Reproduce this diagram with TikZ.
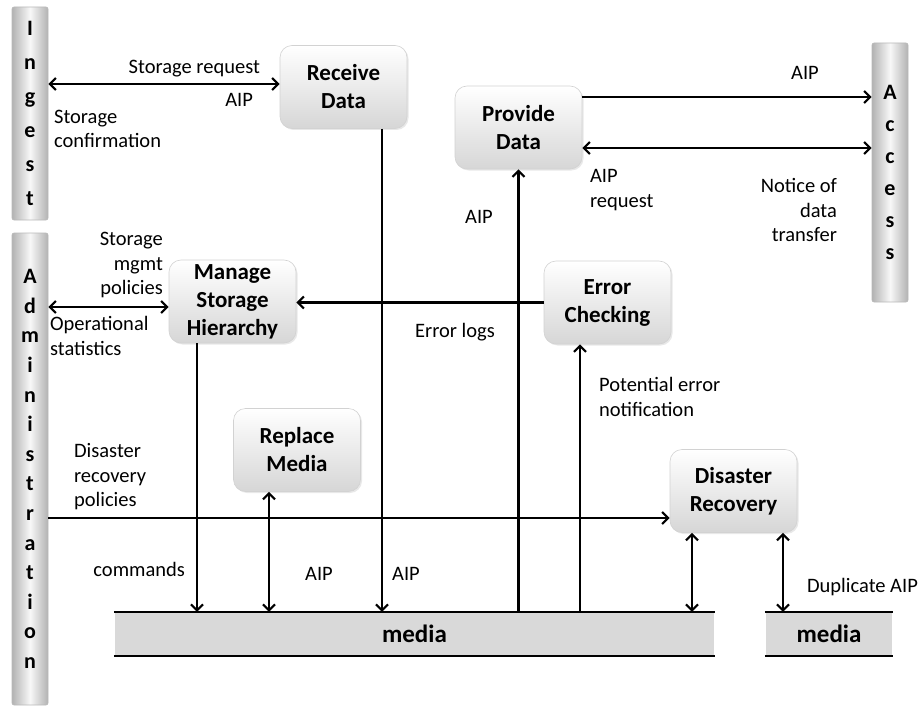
\documentclass[tikz,border=0pt]{standalone}
\usepackage{fontspec}
\setmainfont{Carlito}
\usetikzlibrary{arrows.meta,shadows}

\begin{document}
\begin{tikzpicture}[x=1pt, y=-1pt, line width=2.2pt,
    >={Straight Barb[length=6pt,width=12pt]},
    lbl/.style={font=\fontsize{20.5}{24.5}\selectfont, inner sep=0pt},
    proc/.style={rounded corners=12pt, draw=gray!35, line width=0.6pt,
        top color=white, bottom color=gray!32, minimum width=127,
        minimum height=83, inner sep=2pt, align=center,
        font=\bfseries\fontsize{23}{28}\selectfont,
        drop shadow={opacity=0.18, shadow xshift=1.5pt, shadow yshift=-1.5pt}},
    sidebar/.style={draw=gray!55, line width=0.6pt, rounded corners=2pt,
        left color=gray!60, right color=gray!60, middle color=gray!6,
        minimum width=36, inner sep=0pt, align=center,
        font=\bfseries\fontsize{22}{#1}\selectfont},
    media/.style={fill=gray!30, minimum height=42, inner sep=0pt,
        font=\bfseries\fontsize{25}{30}\selectfont}]
    \useasboundingbox (0,0) rectangle (921,706);

    % Side bars
    \node[sidebar=34, minimum height=213] (ingest) at (30,113.5) {I\\n\\g\\e\\s\\t};
    \node[sidebar=29.6, minimum height=472] (admin) at (30,469) {A\\d\\m\\i\\n\\i\\s\\t\\r\\a\\t\\i\\o\\n};
    \node[sidebar=32, minimum height=259] (access) at (890,172.5) {A\\c\\c\\e\\s\\s};

    % Functions
    \node[proc] (recv) at (343.5,87) {Receive\\Data};
    \node[proc] (prov) at (518.5,127.5) {Provide\\Data};
    \node[proc] (mng) at (232.5,301.5) {Manage\\Storage\\Hierarchy};
    \node[proc] (err) at (607.5,302.5) {Error\\Checking};
    \node[proc] (repl) at (297,450) {Replace\\Media};
    \node[proc] (dr) at (733.5,491) {Disaster\\Recovery};

    % Media
    \node[media, minimum width=599] (m1) at (414.5,634) {media};
    \node[media, minimum width=126] (m2) at (829,634) {media};
    \draw (m1.north west) -- (m1.north east) (m1.south west) -- (m1.south east);
    \draw (m2.north west) -- (m2.north east) (m2.south west) -- (m2.south east);

    % Ingest <-> Receive Data
    \coordinate (r1) at ([yshift=3]recv.west);
    \coordinate (r2) at ([xshift=38.5]recv.south);
    \draw[<->] (ingest.east |- r1) -- (r1);
    \draw[->] (r2) -- (r2 |- m1.north);
    \node[lbl, anchor=east] (sreq) at (261,69) {Storage request};
    \node[lbl, anchor=east] (aip1) at (254,100) {AIP};
    \node[lbl, anchor=west, align=left] (sconf) at (53,129) {Storage\\confirmation};

    % Provide Data <-> Access
    \coordinate (p1) at ([yshift=30.5]prov.east);
    \coordinate (p2) at ([yshift=-20.5]prov.east);
    \draw[->] (p1) -- (p1 -| access.west);
    \draw[<->] (p2) -- (p2 -| access.west);
    \draw[->] (m1.north -| prov.south) -- (prov.south);
    \node[lbl] (aip2) at (805,73) {AIP};
    \node[lbl, anchor=west, align=left] (aipreq) at (589,190) {AIP\\request};
    \node[lbl, anchor=east, align=right] (notice) at (838,210) {Notice of\\data\\transfer};
    \node[lbl] (aip3) at (479,217) {AIP};

    % Administration <-> Manage Storage Hierarchy
    \coordinate (s1) at ([yshift=-5.5]mng.west);
    \coordinate (s2) at ([xshift=-35.5]mng.south);
    \draw[<->] (admin.east |- s1) -- (s1);
    \draw[->] (err.west) -- (err.west -| mng.east);
    \draw[->] (s2) -- (s2 |- m1.north);
    \node[lbl, anchor=east, align=right] (mgmt) at (164,265) {Storage\\mgmt\\policies};
    \node[lbl, anchor=west, align=left] (opstat) at (49,336) {Operational\\statistics};
    \node[lbl] (elogs) at (455,332) {Error logs};

    % Error Checking
    \coordinate (e1) at ([xshift=-27.5]err.south);
    \draw[->] (e1 |- m1.north) -- (e1);
    \node[lbl, anchor=west, align=left] (pnote) at (598,397) {Potential error\\notification};

    % Replace Media
    \coordinate (rp) at ([xshift=-28]repl.south);
    \draw[<->] (rp) -- (rp |- m1.north);

    % Disaster Recovery
    \coordinate (d0) at ([yshift=-27]dr.west);
    \coordinate (d1) at ([xshift=-41.5]dr.south);
    \coordinate (d2) at ([xshift=49.5]dr.south);
    \draw[->] (admin.east |- d0) -- (d0);
    \draw[<->] (d1) -- (d1 |- m1.north);
    \draw[<->] (d2) -- (d2 |- m2.north);
    \node[lbl, anchor=west, align=left] (drpol) at (73,477) {Disaster\\recovery\\policies};
    \node[lbl, anchor=east] (cmds) at (186,569) {commands};
    \node[lbl] (aip4) at (319,574) {AIP};
    \node[lbl] (aip5) at (406,574) {AIP};
    \node[lbl, anchor=west] (dupaip) at (806,587) {Duplicate AIP};
\end{tikzpicture}
\end{document}
